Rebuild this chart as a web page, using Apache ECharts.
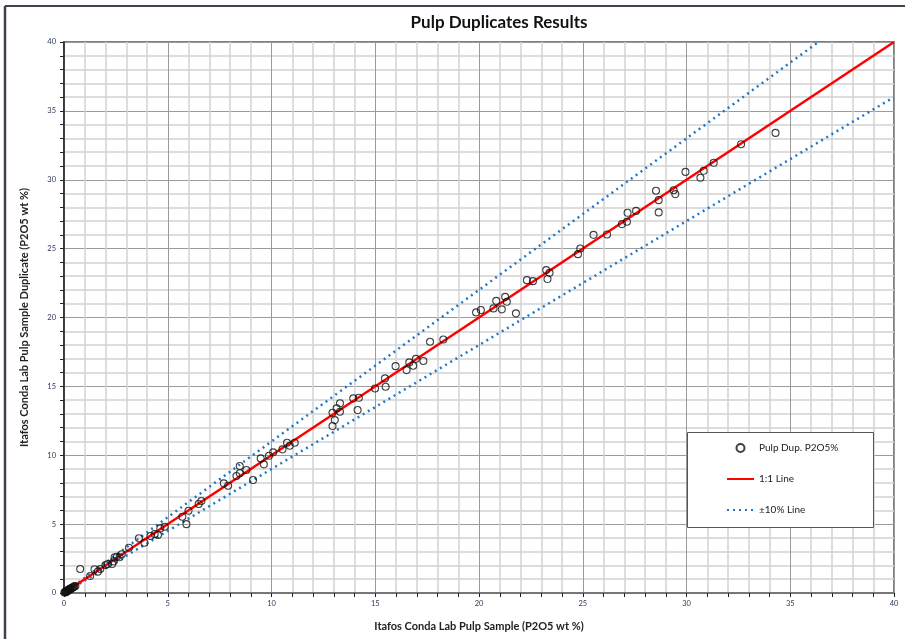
<!DOCTYPE html>
<html>
<head>
<meta charset="utf-8">
<title>Pulp Duplicates Results</title>
<script src="https://cdn.jsdelivr.net/npm/echarts@6/dist/echarts.min.js"></script>
<style>
    html, body { margin: 0; padding: 0; background: #fff; }
    #chart { width: 905px; height: 639px; }
</style>
</head>
<body>
<div id="chart"></div>
<script>
// original sample P2O5 wt % (x) and duplicate P2O5 wt % (y)
const sampleX = [
    0.02, 0.05, 0.08, 0.1, 0.12, 0.15, 0.18, 0.2, 0.22, 0.25, 0.28, 0.3, 0.33, 0.36, 0.4, 0.43, 0.47, 0.5, 0.55,
    0.78, 1.26, 1.47, 1.63, 1.75, 2.0, 2.11, 2.32, 2.4, 2.44, 2.55, 2.68, 2.78, 3.13, 3.61, 3.88, 4.17, 4.37, 4.53, 4.64, 4.85,
    5.7, 5.9, 6.0, 6.49, 6.62, 7.7, 7.91, 8.31, 8.47, 8.47, 8.79, 9.11, 9.48, 9.63, 9.88, 10.08, 10.53, 10.75, 10.88, 11.12,
    12.94, 13.05, 12.94, 13.14, 13.3, 13.3, 13.94, 14.21, 14.15, 14.99, 15.5, 15.47, 15.98, 16.51, 16.64, 16.83, 16.96, 17.32, 17.64, 18.28,
    19.86, 20.09, 20.7, 20.83, 21.1, 21.26, 21.34, 21.78, 22.31, 22.6, 23.24, 23.4, 23.3, 24.77, 24.88, 25.52, 26.17,
    26.89, 27.13, 27.16, 27.57, 28.53, 28.66, 28.66, 29.38, 29.46, 29.95, 30.67, 30.83, 31.31, 32.63, 34.29
]
const dupY = [
    0.03, 0.06, 0.1, 0.05, 0.14, 0.12, 0.2, 0.16, 0.25, 0.22, 0.3, 0.26, 0.35, 0.32, 0.38, 0.42, 0.45, 0.48, 0.5,
    1.74, 1.23, 1.72, 1.55, 1.74, 2.03, 2.1, 2.1, 2.3, 2.59, 2.63, 2.59, 2.81, 3.29, 3.97, 3.65, 4.14, 4.28, 4.21, 4.69, 4.81,
    5.54, 5.0, 5.97, 6.46, 6.68, 7.96, 7.79, 8.49, 8.69, 9.22, 8.93, 8.2, 9.77, 9.34, 9.96, 10.21, 10.43, 10.91, 10.69, 10.91,
    12.12, 12.55, 13.08, 13.4, 13.77, 13.16, 14.13, 14.17, 13.28, 14.85, 14.97, 15.58, 16.47, 16.18, 16.74, 16.5, 17.0, 16.84, 18.24, 18.4,
    20.37, 20.54, 20.66, 21.21, 20.59, 21.5, 21.14, 20.3, 22.71, 22.64, 23.44, 23.24, 22.79, 24.6, 25.01, 26.0, 26.03,
    26.78, 26.95, 27.6, 27.74, 29.2, 28.52, 27.63, 29.24, 28.96, 30.57, 30.14, 30.65, 31.23, 32.58, 33.4
]

// reference lines
const oneToOne = [[0, 0], [40, 40]]
const plus10 = [[0, 0], [36.36, 40]]
const minus10 = [[0, 0], [40, 36]]

const axisTicks = [0, 5, 10, 15, 20, 25, 30, 35, 40]

let points = sampleX.map((x, i) => [x, dupY[i]])

let chart = echarts.init(document.getElementById('chart'))

let axisCommon = {
    type: 'value',
    min: axisTicks[0],
    max: axisTicks[axisTicks.length - 1],
    interval: axisTicks[1] - axisTicks[0],
    nameLocation: 'middle',
    nameTextStyle: {
        fontFamily: 'Lato',
        fontWeight: 'bold',
        fontSize: 11,
        color: '#222'
    },
    axisLabel: {
        fontFamily: 'Lato',
        fontSize: 7.5,
        color: '#2b3a5a'
    },
    axisTick: {
        show: true,
        inside: false,
        length: 4,
        lineStyle: { color: '#222', width: 1 }
    },
    minorTick: {
        show: true,
        splitNumber: 5,
        length: 4,
        lineStyle: { color: '#222', width: 1 }
    },
    splitLine: {
        show: true,
        lineStyle: { color: '#9a9a9a', width: 1 }
    },
    minorSplitLine: {
        show: true,
        lineStyle: { color: '#d2d2d2', width: 1.5 }
    }
}

// hide the dot that line series put in the middle of their legend icon
let hiddenDot = { color: 'rgba(0,0,0,0)', borderWidth: 0 }

let option = {
    backgroundColor: '#fff',
    animation: false,
    title: {
        text: 'Pulp Duplicates Results',
        left: 494,
        top: 9,
        textAlign: 'center',
        textStyle: {
            fontFamily: 'Lato',
            fontWeight: 'bold',
            fontSize: 17,
            color: '#111'
        }
    },
    grid: {
        left: 64,
        right: 11,
        top: 42,
        bottom: 46,
        show: true,
        borderColor: '#555',
        borderWidth: 1.5
    },
    xAxis: Object.assign({}, axisCommon, {
        name: 'Itafos Conda Lab Pulp Sample (P2O5 wt %)',
        nameGap: 28,
        axisLabel: Object.assign({}, axisCommon.axisLabel, { margin: 7 }),
        axisLine: { lineStyle: { color: '#777', width: 2 } }
    }),
    yAxis: Object.assign({}, axisCommon, {
        name: 'Itafos Conda Lab Pulp Sample Duplicate (P2O5 wt %)',
        nameGap: 34,
        axisLabel: Object.assign({}, axisCommon.axisLabel, { margin: 8 }),
        axisLine: { lineStyle: { color: '#222', width: 1.5 } }
    }),
    legend: {
        orient: 'vertical',
        left: 721,
        top: 438,
        z: 10,
        itemWidth: 27,
        itemHeight: 8,
        itemGap: 21,
        textStyle: {
            fontFamily: 'Lato',
            fontSize: 10,
            color: '#222'
        },
        data: [
            { name: 'Pulp Dup. P2O5%' },
            { name: '1:1 Line', itemStyle: hiddenDot },
            { name: '±10% Line', itemStyle: hiddenDot }
        ]
    },
    graphic: [
        // outer frame of the picture
        {
            type: 'line',
            shape: { x1: 5, y1: 6, x2: 905, y2: 6 },
            style: { stroke: '#3d434c', lineWidth: 2 }
        },
        {
            type: 'line',
            shape: { x1: 5, y1: 6, x2: 5, y2: 639 },
            style: { stroke: '#3d434c', lineWidth: 2.5 }
        },
        // legend box
        {
            type: 'rect',
            z: 3,
            shape: { x: 687.5, y: 432.5, width: 186, height: 95 },
            style: { fill: '#fff', stroke: '#555', lineWidth: 1 }
        }
    ],
    series: [
        {
            name: '1:1 Line',
            type: 'line',
            data: oneToOne,
            symbol: 'none',
            itemStyle: { color: '#ff0000' },
            lineStyle: { color: '#ff0000', width: 2.5 },
            z: 3
        },
        {
            name: '±10% Line',
            type: 'line',
            data: plus10,
            symbol: 'none',
            itemStyle: { color: '#1f77c8' },
            lineStyle: { color: '#1f77c8', width: 2.5, type: [2, 4] },
            z: 2
        },
        {
            name: '±10% Line',
            type: 'line',
            data: minus10,
            symbol: 'none',
            itemStyle: { color: '#1f77c8' },
            lineStyle: { color: '#1f77c8', width: 2.5, type: [2, 4] },
            z: 2
        },
        {
            name: 'Pulp Dup. P2O5%',
            type: 'scatter',
            data: points,
            symbol: 'circle',
            symbolSize: 7,
            itemStyle: {
                color: 'rgba(255,255,255,0)',
                borderColor: '#111',
                borderWidth: 1.1
            },
            z: 4
        }
    ]
}
chart.setOption(option)
</script>
</body>
</html>
